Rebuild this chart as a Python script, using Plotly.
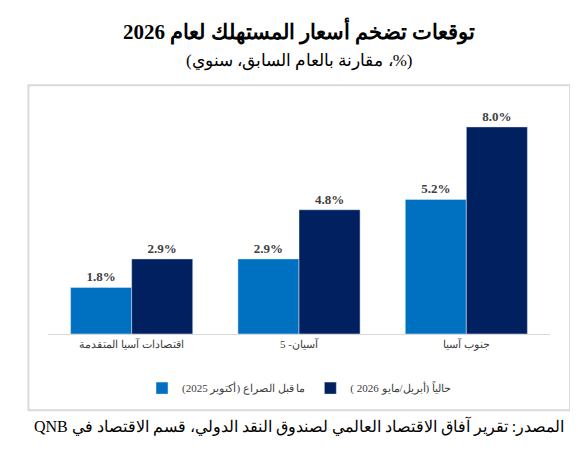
import plotly.graph_objects as go

categories = ["اقتصادات آسيا المتقدمة", "آسيان- 5", "جنوب آسيا"]
pre_conflict = [1.8, 2.9, 5.2]
current = [2.9, 4.8, 8.0]
name_pre = "ما قبل الصراع (أكتوبر 2025)"
name_cur = "حالياً (أبريل/مايو 2026 )"
title = "<b>توقعات تضخم أسعار المستهلك لعام 2026</b>"
subtitle = "(%، مقارنة بالعام السابق، سنوي)"
source = "المصدر: تقرير آفاق الاقتصاد العالمي لصندوق النقد الدولي، قسم الاقتصاد في QNB"

def rtl(s):
    return "\u202b" + s + "\u202c"

F = "Liberation Serif"
fig = go.Figure()
fig.add_bar(x=categories, y=pre_conflict, name=rtl(name_pre), marker_color="#0070C0",
            text=[f"{v:.1f}%" for v in pre_conflict], textposition="outside",
            textfont=dict(family=F, size=13, color="#404040"), cliponaxis=False)
fig.add_bar(x=categories, y=current, name=rtl(name_cur), marker_color="#002060",
            text=[f"{v:.1f}%" for v in current], textposition="outside",
            textfont=dict(family=F, size=13, color="#404040"), cliponaxis=False)
fig.update_traces(texttemplate="<b>%{text}</b>")
fig.update_layout(
    width=578, height=450, barmode="group", bargap=0.27, bargroupgap=0,
    paper_bgcolor="white", plot_bgcolor="white",
    margin=dict(l=40, r=36, t=93, b=124, autoexpand=False),
    font=dict(family=F, color="#404040"),
    xaxis=dict(showline=True, linecolor="#d9d9d9", automargin=False,
               tickfont=dict(size=11, family=F, color="#404040"), ticks=""),
    yaxis=dict(range=[0, 9], visible=False, automargin=False),
    showlegend=True,
    legend=dict(orientation="h", x=0.5, xanchor="center", y=-0.17, yanchor="top",
                font=dict(size=11, family=F, color="#404040")),
    shapes=[dict(type="rect", xref="paper", yref="paper", x0=-0.039, x1=1.04, y0=-0.327, y1=1.068,
                 line=dict(color="#d9d9d9", width=2))],
    annotations=[
        dict(text=rtl(title), xref="paper", yref="paper", x=0.5, y=1.0, yanchor="bottom", yshift=54, showarrow=False,
             font=dict(size=21, family=F, color="black")),
        dict(text=rtl(subtitle), xref="paper", yref="paper", x=0.5, y=1.0, yanchor="bottom", yshift=28, showarrow=False,
             font=dict(size=17, family=F, color="black")),
        dict(text=rtl(source), xref="paper", yref="paper", x=0.5, y=0, yanchor="top", yshift=-80, showarrow=False,
             font=dict(size=16, family=F, color="black")),
    ],
)
fig.write_html("out.html")
